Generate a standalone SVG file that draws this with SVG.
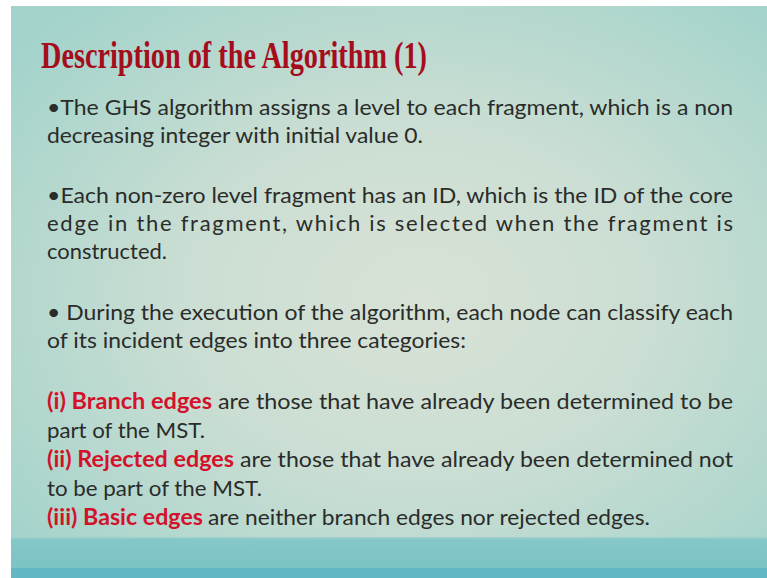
<svg xmlns="http://www.w3.org/2000/svg" width="767" height="578" viewBox="0 0 767 578">
<defs>
<radialGradient id="bg" cx="420" cy="300" r="520" gradientUnits="userSpaceOnUse" gradientTransform="translate(420 300) scale(1 0.75) translate(-420 -300)">
<stop offset="0" stop-color="#d8e2d6"/>
<stop offset="0.45" stop-color="#cbded3"/>
<stop offset="1" stop-color="#a3d3cb"/>
</radialGradient>
<linearGradient id="bar" x1="0" y1="0" x2="0" y2="1">
<stop offset="0" stop-color="#86c8c8"/>
<stop offset="1" stop-color="#7cc3c6"/>
</linearGradient>
</defs>
<style>
.t{font-family:Lato,"Open Sans","Liberation Sans",sans-serif;font-size:22px;fill:#2a2c2a}
.r{font-family:Lato,"Open Sans","Liberation Sans",sans-serif;font-size:22px;fill:#d4112b;font-weight:bold}
.h{font-family:"Liberation Serif","DejaVu Serif",serif;font-size:38px;font-weight:bold;fill:#a50d1d}
</style>
<rect x="0" y="0" width="767" height="578" fill="#ffffff"/>
<rect x="11" y="6" width="756" height="531" fill="url(#bg)"/>
<rect x="11" y="537" width="756" height="31" fill="url(#bar)"/>
<rect x="11" y="537" width="756" height="1.5" fill="#9fcfcb"/>
<rect x="11" y="568" width="756" height="10" fill="#62b8c2"/>
<g id="title">
<text class="h" x="41" y="68" textLength="386" lengthAdjust="spacingAndGlyphs">Description of the Algorithm (1)</text>
</g>
<g id="body">
<text class="t" x="47" y="115" textLength="686" lengthAdjust="spacingAndGlyphs">•The GHS algorithm assigns a level to each fragment, which is a non</text>
<text class="t" x="47" y="143" textLength="376" lengthAdjust="spacingAndGlyphs">decreasing integer with initial value 0.</text>
<text class="t" x="47" y="203" textLength="686" lengthAdjust="spacingAndGlyphs">•Each non-zero level fragment has an ID, which is the ID of the core</text>
<text class="t" x="47" y="231" textLength="686" lengthAdjust="spacing">edge in the fragment, which is selected when the fragment is</text>
<text class="t" x="47" y="259" textLength="120" lengthAdjust="spacingAndGlyphs">constructed.</text>
<text class="t" x="47" y="320" textLength="686" lengthAdjust="spacingAndGlyphs">• During the execution of the algorithm, each node can classify each</text>
<text class="t" x="47" y="348" textLength="419" lengthAdjust="spacingAndGlyphs">of its incident edges into three categories:</text>
<text class="r" x="47" y="409" textLength="165" lengthAdjust="spacingAndGlyphs">(i) Branch edges</text>
<text class="t" x="218" y="409" textLength="515" lengthAdjust="spacingAndGlyphs">are those that have already been determined to be</text>
<text class="t" x="47" y="438" textLength="158" lengthAdjust="spacingAndGlyphs">part of the MST.</text>
<text class="r" x="47" y="467" textLength="187" lengthAdjust="spacingAndGlyphs">(ii) Rejected edges</text>
<text class="t" x="240" y="467" textLength="493" lengthAdjust="spacingAndGlyphs">are those that have already been determined not</text>
<text class="t" x="47" y="496" textLength="215" lengthAdjust="spacingAndGlyphs">to be part of the MST.</text>
<text class="r" x="47" y="525" textLength="156" lengthAdjust="spacingAndGlyphs">(iii) Basic edges</text>
<text class="t" x="208" y="525" textLength="442" lengthAdjust="spacingAndGlyphs">are neither branch edges nor rejected edges.</text>
</g>
</svg>
